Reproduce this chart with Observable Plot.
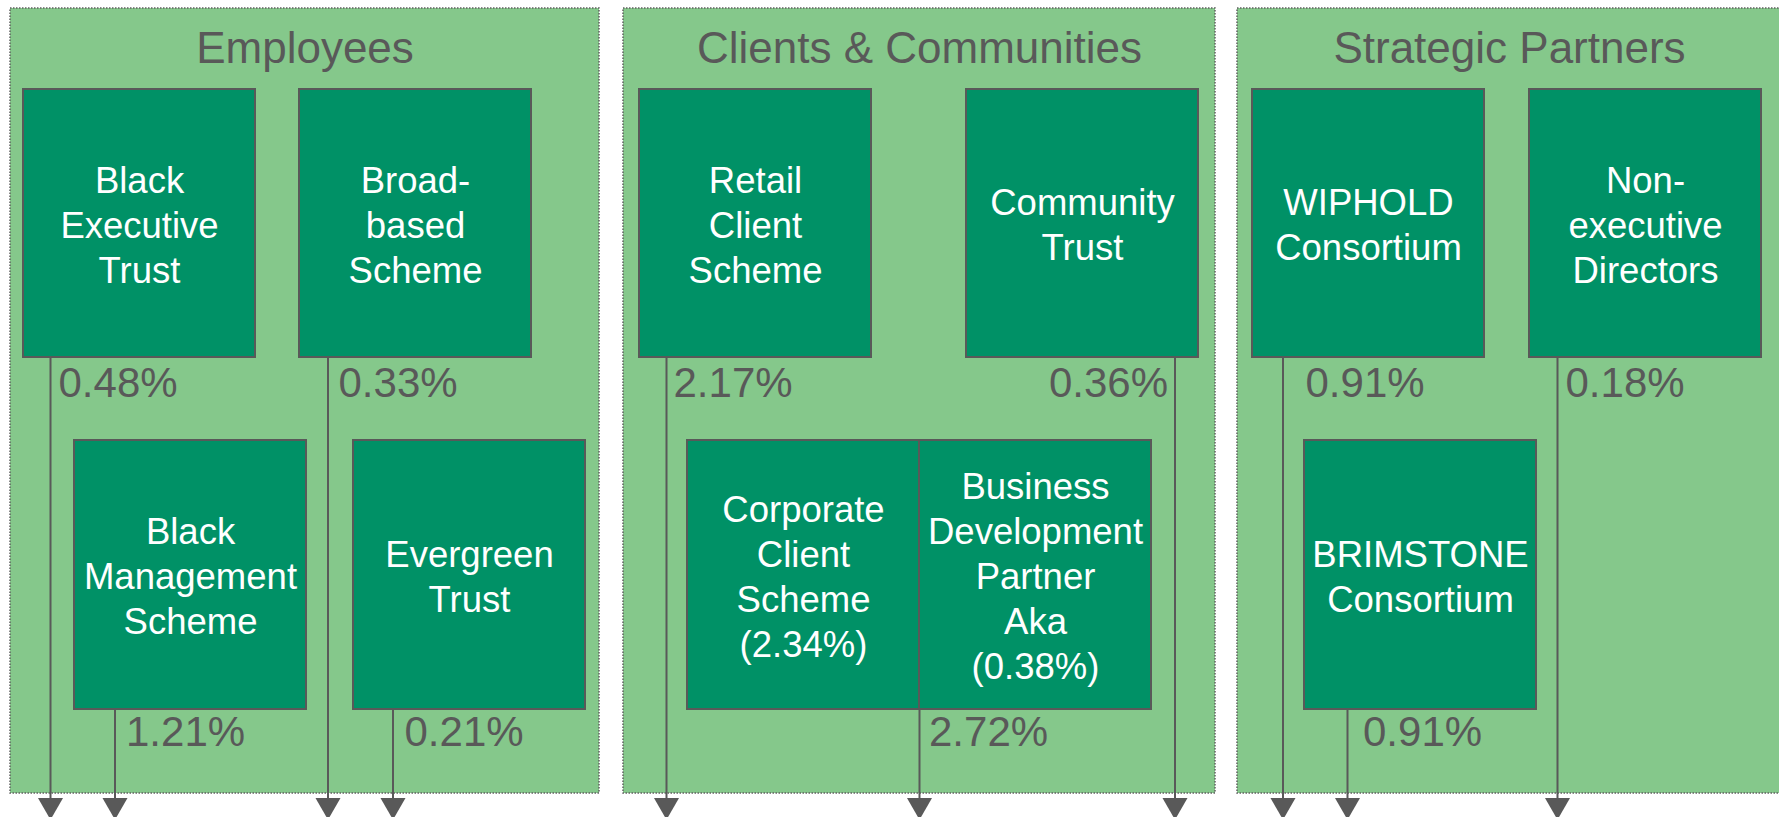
<!DOCTYPE html>
<html>
<head>
<meta charset="utf-8">
<script src="https://cdn.jsdelivr.net/npm/d3@7"></script>
<script src="https://cdn.jsdelivr.net/npm/@observablehq/plot@0.6"></script>
<style>
  html, body { margin: 0; padding: 0; background: #ffffff; }
  #chart svg { display: block; }
</style>
</head>
<body>
<div id="chart"></div>
<script>
// ---- data ----
const groups = ["Employees", "Clients & Communities", "Strategic Partners"];
const entities = [
  "Black\nExecutive\nTrust",
  "Broad-\nbased\nScheme",
  "Black\nManagement\nScheme",
  "Evergreen\nTrust",
  "Retail\nClient\nScheme",
  "Community\nTrust",
  "Corporate\nClient\nScheme\n(2.34%)",
  "Business\nDevelopment\nPartner\nAka\n(0.38%)",
  "WIPHOLD\nConsortium",
  "Non-\nexecutive\nDirectors",
  "BRIMSTONE\nConsortium"
];
const entityGroup = [0, 0, 0, 0, 1, 1, 1, 1, 2, 2, 2];
const stakeLabels = ["0.48%", "0.33%", "1.21%", "0.21%", "2.17%", "0.36%", "2.72%", "0.91%", "0.18%", "0.91%"];
const stakeFrom = [0, 1, 2, 3, 4, 5, 6, 8, 9, 10]; // entity index each stake flows from

// ---- layout (pixel geometry of the diagram) ----
const W = 1779, H = 817;
const L = {
  panelX: [[10, 599], [623, 1215], [1237, 1781]],
  panelY: [8, 793],
  titleY: 48.2,
  rowY: [[89, 357], [440, 709]],
  boxW: 232,
  boxX: [23, 299, 74, 353, 639, 966, 687, 919, 1252, 1529, 1304],
  boxRow: [0, 0, 1, 1, 0, 0, 1, 1, 0, 0, 1],
  flowX: [50, 327.5, 114.5, 392.5, 666, 1174.5, 919, 1282.5, 1557, 1347],
  labelX: [58, 338, 125.5, 404, 673, 1167.5, 928.5, 1305, 1565, 1362.5],
  labelEnd: [false, false, false, false, false, true, false, false, false, false],
  labelY: [382.6, 731.6],
  arrowBase: 799
};

const gray = "#595959";
const panelFill = "#85c88b";
const boxFill = "#009166";
const font = "Liberation Sans, Arial, Helvetica, sans-serif";

const panels = groups.map((g, i) => ({g, i}));
const boxes = entities.map((name, i) => ({name, i, group: groups[entityGroup[i]]}));
const flows = stakeLabels.map((label, k) => ({label, k, from: stakeFrom[k]}));

const labelOpts = (anchor) => ({
  filter: d => L.labelEnd[d.k] === (anchor === "end"),
  x: d => L.labelX[d.k],
  y: d => L.labelY[L.boxRow[d.from]],
  text: "label", fill: gray, fontSize: 42, fontFamily: font,
  lineAnchor: "middle", textAnchor: anchor
});

const chart = Plot.plot({
  width: W,
  height: H,
  margin: 0,
  style: {background: "#ffffff"},
  x: {domain: [0, W], range: [0, W], axis: null},
  y: {domain: [0, H], range: [0, H], axis: null},
  marks: [
    // group panels
    Plot.rect(panels, {
      x1: d => L.panelX[d.i][0], x2: d => L.panelX[d.i][1],
      y1: L.panelY[0], y2: L.panelY[1],
      fill: panelFill, stroke: "#606060", strokeWidth: 1.5, strokeDasharray: "1.5,1.5"
    }),
    // panel titles
    Plot.text(panels, {
      x: d => (L.panelX[d.i][0] + L.panelX[d.i][1]) / 2,
      y: L.titleY,
      text: "g", fill: gray, fontSize: 44, fontFamily: font, lineAnchor: "middle"
    }),
    // flow lines
    Plot.ruleX(flows, {
      x: d => L.flowX[d.k],
      y1: d => L.rowY[L.boxRow[d.from]][1],
      y2: L.arrowBase + 2,
      stroke: gray, strokeWidth: 2
    }),
    // entity boxes
    Plot.rect(boxes, {
      x1: d => L.boxX[d.i], x2: d => L.boxX[d.i] + L.boxW,
      y1: d => L.rowY[L.boxRow[d.i]][0], y2: d => L.rowY[L.boxRow[d.i]][1],
      fill: boxFill, stroke: gray, strokeWidth: 2
    }),
    // entity names
    Plot.text(boxes, {
      x: d => L.boxX[d.i] + L.boxW / 2,
      y: d => (L.rowY[L.boxRow[d.i]][0] + L.rowY[L.boxRow[d.i]][1]) / 2,
      text: "name", fill: "#ffffff", fontSize: 36.5, fontFamily: font,
      lineHeight: 1.233, lineAnchor: "middle", textAnchor: "middle"
    }),
    // stake labels
    Plot.text(flows, labelOpts("start")),
    Plot.text(flows, labelOpts("end")),
    // arrow heads
    Plot.dot(flows, {
      x: d => L.flowX[d.k],
      y: L.arrowBase + 5.77,
      symbol: "triangle", r: 9.3, rotate: 180,
      fill: gray, stroke: "none"
    })
  ]
});

document.getElementById("chart").appendChild(chart);
</script>
</body>
</html>
